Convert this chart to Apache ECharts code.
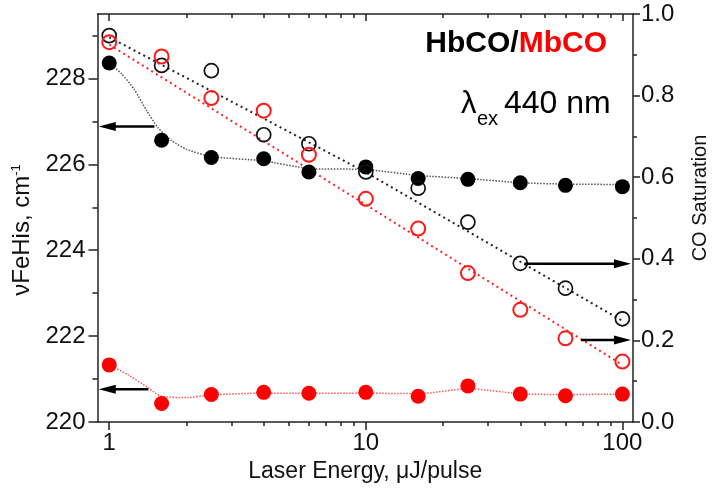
<!DOCTYPE html>
<html>
<head>
<meta charset="utf-8">
<script src="https://cdn.jsdelivr.net/npm/echarts@6/dist/echarts.min.js"></script>
<style>html,body{margin:0;padding:0;background:#fff}#c{width:714px;height:492px}</style>
</head>
<body>
<div id="c"></div>
<script>
// ---- data ----
const energy = [1, 1.6, 2.5, 4, 6, 10, 16, 25, 40, 60, 100];
const hbFreq = [228.36, 226.56, 226.16, 226.13, 225.82, 225.94, 225.67, 225.65, 225.57, 225.51, 225.48];
const mbFreq = [221.33, 220.43, 220.64, 220.69, 220.67, 220.69, 220.60, 220.84, 220.65, 220.61, 220.65];
const hbSat = [0.947, 0.874, 0.861, 0.704, 0.682, 0.613, 0.573, 0.490, 0.389, 0.328, 0.253];
const mbSat = [0.931, 0.896, 0.794, 0.763, 0.655, 0.547, 0.474, 0.365, 0.275, 0.205, 0.148];
// fit curves
const hbFreqFitX = [1, 1.12, 1.25, 1.4, 1.55, 1.75, 2, 2.5, 4, 6, 10, 16, 25, 40, 60, 100];
const hbFreqFitY = [228.36, 228.1, 227.75, 227.25, 226.85, 226.55, 226.35, 226.18, 226.08, 225.9, 225.88, 225.74, 225.67, 225.57, 225.54, 225.53];
const mbFreqFitX = [1, 1.19, 1.4, 1.6, 2, 2.5, 4, 6, 10, 16, 25, 40, 60, 100];
const mbFreqFitY = [221.33, 221.09, 220.82, 220.6, 220.57, 220.63, 220.67, 220.67, 220.67, 220.66, 220.77, 220.66, 220.64, 220.65];
const hbSatFitX = [1, 10, 100];
const hbSatFitY = [0.943, 0.612, 0.248];
const mbSatFitX = [1, 100];
const mbSatFitY = [0.925, 0.140];
// arrows: [tailX, tipX, y]
const leftArrows = [[1.5, 0.91, 226.88], [1.42, 0.91, 220.76]];
const rightArrows = [[41.5, 108, 0.388], [69, 108, 0.201]];
// ticks
const xMajor = [1, 10, 100];
const xMinor = [2,3,4,5,6,7,8,9,20,30,40,50,60,70,80,90];
const yLeftMajor = [220, 222, 224, 226, 228];
const yLeftMinor = [221, 223, 225, 227, 229];

const FONT = "'Liberation Sans', Arial, sans-serif";
const AX = '#222';
const zip = (a, b) => a.map((v, i) => [v, b[i]]);

function arrowItem(params, api) {
  const tail = api.coord([api.value(0), api.value(2)]);
  const tip = api.coord([api.value(1), api.value(2)]);
  const dir = Math.sign(tip[0] - tail[0]);
  const hl = 17, hw = 4.5;
  return {
    type: 'group',
    children: [
      { type: 'line', shape: { x1: tail[0], y1: tail[1], x2: tip[0] - dir * hl * 0.7, y2: tip[1] },
        style: { stroke: '#000', lineWidth: 2.5 } },
      { type: 'polygon', shape: { points: [[tip[0], tip[1]], [tip[0] - dir * hl, tip[1] - hw], [tip[0] - dir * hl, tip[1] + hw]] },
        style: { fill: '#000' } }
    ]
  };
}

const xBase = { type: 'log', logBase: 10, min: 0.9, max: 110, splitLine: { show: false }, minorSplitLine: { show: false } };
const chart = echarts.init(document.getElementById('c'), null, { renderer: 'canvas' });
chart.setOption({
  animation: false,
  backgroundColor: '#fff',
  textStyle: { fontFamily: FONT },
  grid: { left: 97.5, right: 81, top: 14, bottom: 70 },
  xAxis: [
    Object.assign({}, xBase, {
      position: 'bottom',
      axisLine: { show: true, lineStyle: { color: AX, width: 1.5 } },
      axisTick: { show: true, customValues: xMajor, length: 8, inside: false, lineStyle: { color: AX, width: 1.5 } },
      axisLabel: { show: true, customValues: xMajor, fontSize: 24, color: '#111', margin: 9, fontFamily: FONT },
      name: 'Laser Energy, μJ/pulse', nameLocation: 'middle', nameGap: 35,
      nameTextStyle: { fontSize: 23, color: '#111', fontFamily: FONT }
    }),
    Object.assign({}, xBase, {
      position: 'bottom',
      axisLine: { show: false },
      axisTick: { show: true, customValues: xMinor, length: 4, inside: false, lineStyle: { color: AX, width: 1.5 } },
      axisLabel: { show: false }
    }),
    Object.assign({}, xBase, {
      position: 'top',
      axisLine: { show: true, lineStyle: { color: AX, width: 1.5 } },
      axisTick: { show: true, customValues: xMajor, length: 7, inside: true, lineStyle: { color: AX, width: 1.5 } },
      axisLabel: { show: false }
    }),
    Object.assign({}, xBase, {
      position: 'top',
      axisLine: { show: false },
      axisTick: { show: true, customValues: xMinor, length: 4, inside: true, lineStyle: { color: AX, width: 1.5 } },
      axisLabel: { show: false }
    })
  ],
  yAxis: [
    {
      type: 'value', position: 'left', min: 220, max: 229.5,
      splitLine: { show: false },
      axisLine: { show: true, lineStyle: { color: AX, width: 1.5 } },
      axisTick: { show: true, customValues: yLeftMajor, length: 9, lineStyle: { color: AX, width: 1.5 } },
      axisLabel: { show: true, customValues: yLeftMajor, fontSize: 24, color: '#111', margin: 12, fontFamily: FONT },
      name: '{a|νFeHis, cm}{s|-1}', nameLocation: 'middle', nameGap: 58, nameRotate: 90,
      nameTextStyle: {
        color: '#111', padding: [0, 24, 0, 0],
        rich: {
          a: { fontSize: 24, fontFamily: FONT, color: '#111', lineHeight: 26 },
          s: { fontSize: 13, fontFamily: FONT, color: '#111', verticalAlign: 'top', lineHeight: 26 }
        }
      }
    },
    {
      type: 'value', position: 'left', min: 220, max: 229.5,
      splitLine: { show: false },
      axisLine: { show: false },
      axisTick: { show: true, customValues: yLeftMinor, length: 5, lineStyle: { color: AX, width: 1.5 } },
      axisLabel: { show: false }
    },
    {
      type: 'value', position: 'right', min: 0, max: 1, interval: 0.2,
      splitLine: { show: false }, minorSplitLine: { show: false },
      axisLine: { show: true, lineStyle: { color: AX, width: 1.5 } },
      axisTick: { show: true, length: 7, lineStyle: { color: AX, width: 1.5 } },
      minorTick: { show: true, splitNumber: 2, length: 4, lineStyle: { color: AX, width: 1.5 } },
      axisLabel: { show: true, fontSize: 24, color: '#111', margin: 8, fontFamily: FONT, formatter: v => v.toFixed(1) }
    }
  ],
  series: [
    { type: 'line', xAxisIndex: 0, yAxisIndex: 2, data: zip(hbSatFitX, hbSatFitY), symbol: 'none',
      lineStyle: { color: '#222', width: 2, type: [2, 3.5] }, silent: true, z: 2 },
    { type: 'line', xAxisIndex: 0, yAxisIndex: 2, data: zip(mbSatFitX, mbSatFitY), symbol: 'none',
      lineStyle: { color: '#f22', width: 2, type: [2, 3.5] }, silent: true, z: 2 },
    { type: 'line', xAxisIndex: 0, yAxisIndex: 0, data: zip(hbFreqFitX, hbFreqFitY), symbol: 'none', smooth: 0.2,
      lineStyle: { color: '#555', width: 1.5, type: [1.5, 1.5] }, silent: true, z: 2 },
    { type: 'line', xAxisIndex: 0, yAxisIndex: 0, data: zip(mbFreqFitX, mbFreqFitY), symbol: 'none', smooth: 0.3,
      lineStyle: { color: '#f55', width: 1.5, type: [1.5, 1.5] }, silent: true, z: 2 },
    { type: 'scatter', xAxisIndex: 0, yAxisIndex: 0, data: zip(energy, hbFreq), symbol: 'circle', symbolSize: 15,
      itemStyle: { color: '#000', opacity: 1 }, z: 4 },
    { type: 'scatter', xAxisIndex: 0, yAxisIndex: 0, data: zip(energy, mbFreq), symbol: 'circle', symbolSize: 15,
      itemStyle: { color: '#ff0000', opacity: 1 }, z: 4 },
    { type: 'scatter', xAxisIndex: 0, yAxisIndex: 2, data: zip(energy, hbSat), symbol: 'circle', symbolSize: 14,
      itemStyle: { color: 'rgba(255,255,255,0)', borderColor: '#111', borderWidth: 1.7, opacity: 1 }, z: 5 },
    { type: 'scatter', xAxisIndex: 0, yAxisIndex: 2, data: zip(energy, mbSat), symbol: 'circle', symbolSize: 14,
      itemStyle: { color: 'rgba(255,255,255,0)', borderColor: '#ff1a1a', borderWidth: 2, opacity: 1 }, z: 5 },
    { type: 'custom', xAxisIndex: 0, yAxisIndex: 0, data: leftArrows, encode: { x: [0, 1], y: 2 },
      renderItem: arrowItem, silent: true, z: 6 },
    { type: 'custom', xAxisIndex: 0, yAxisIndex: 2, data: rightArrows, encode: { x: [0, 1], y: 2 },
      renderItem: arrowItem, silent: true, z: 6 }
  ],
  graphic: [
    { type: 'text', x: 700, y: 198, rotation: Math.PI / 2, z: 10,
      style: { text: 'CO Saturation', fontSize: 20, fill: '#111', fontFamily: FONT, align: 'center', verticalAlign: 'middle' } },
    { type: 'text', x: 607, y: 44, z: 10,
      style: { text: '{a|HbCO/}{b|MbCO}', align: 'right', verticalAlign: 'middle',
        rich: { a: { fontSize: 30, fontWeight: 'bold', fill: '#000', fontFamily: FONT },
                b: { fontSize: 30, fontWeight: 'bold', fill: '#ff0000', fontFamily: FONT } } } },
    { type: 'text', x: 461, y: 104, z: 10,
      style: { text: 'λ', fontSize: 31, fill: '#000', fontFamily: FONT, align: 'left', verticalAlign: 'middle' } },
    { type: 'text', x: 477, y: 119, z: 10,
      style: { text: 'ex', fontSize: 20, fill: '#000', fontFamily: FONT, align: 'left', verticalAlign: 'middle' } },
    { type: 'text', x: 504, y: 104, z: 10,
      style: { text: '440 nm', fontSize: 32, fill: '#000', fontFamily: FONT, align: 'left', verticalAlign: 'middle' } }
  ]
});
</script>
</body>
</html>
